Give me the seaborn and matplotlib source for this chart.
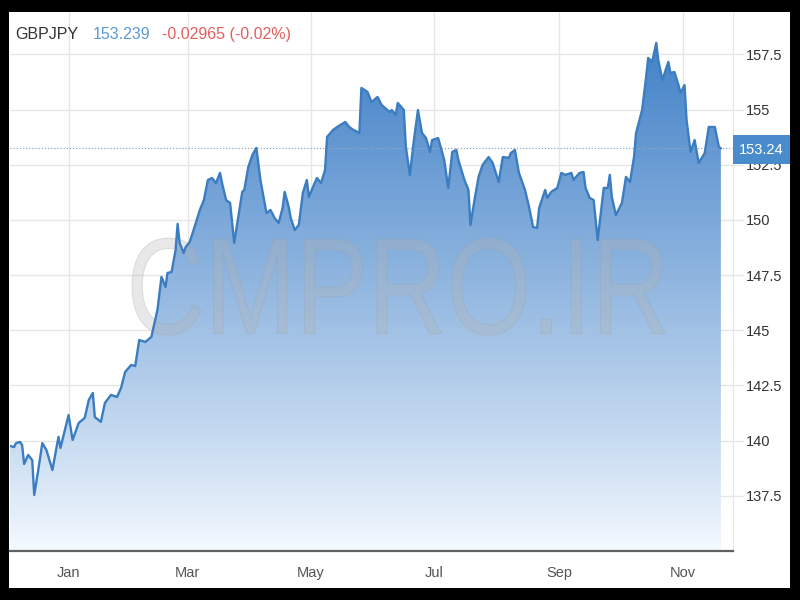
import numpy as np
import pandas as pd
import seaborn as sns
import matplotlib
matplotlib.use("Agg")
import matplotlib.pyplot as plt
import matplotlib.dates as mdates
from matplotlib.patches import Polygon, Rectangle, PathPatch
from matplotlib.textpath import TextPath
from matplotlib.font_manager import FontProperties
from matplotlib.transforms import Affine2D

# GBPJPY daily-ish closes
dates = [
    "2020-12-03", "2020-12-05", "2020-12-06", "2020-12-08", "2020-12-09", "2020-12-10",
    "2020-12-12", "2020-12-14", "2020-12-15", "2020-12-17", "2020-12-19", "2020-12-21",
    "2020-12-24", "2020-12-27", "2020-12-28", "2021-01-01", "2021-01-03", "2021-01-06",
    "2021-01-09", "2021-01-11", "2021-01-13", "2021-01-14", "2021-01-17", "2021-01-19",
    "2021-01-22", "2021-01-25", "2021-01-27", "2021-01-29", "2021-02-01", "2021-02-03",
    "2021-02-05", "2021-02-08", "2021-02-11", "2021-02-14", "2021-02-16", "2021-02-18",
    "2021-02-19", "2021-02-21", "2021-02-23", "2021-02-24", "2021-02-25", "2021-02-27",
    "2021-02-28", "2021-03-02", "2021-03-05", "2021-03-07", "2021-03-09", "2021-03-11",
    "2021-03-13", "2021-03-15", "2021-03-17", "2021-03-18", "2021-03-20", "2021-03-22",
    "2021-03-24", "2021-03-26", "2021-03-28", "2021-03-29", "2021-03-31", "2021-04-02",
    "2021-04-04", "2021-04-06", "2021-04-09", "2021-04-11", "2021-04-13", "2021-04-15",
    "2021-04-17", "2021-04-18", "2021-04-20", "2021-04-21", "2021-04-23", "2021-04-25",
    "2021-04-27", "2021-04-29", "2021-04-30", "2021-05-02", "2021-05-04", "2021-05-06",
    "2021-05-08", "2021-05-09", "2021-05-12", "2021-05-14", "2021-05-18", "2021-05-20",
    "2021-05-22", "2021-05-25", "2021-05-26", "2021-05-29", "2021-05-31", "2021-06-03",
    "2021-06-05", "2021-06-09", "2021-06-10", "2021-06-12", "2021-06-13", "2021-06-16",
    "2021-06-17", "2021-06-19", "2021-06-21", "2021-06-23", "2021-06-25", "2021-06-27",
    "2021-06-29", "2021-06-30", "2021-07-03", "2021-07-06", "2021-07-08", "2021-07-10",
    "2021-07-12", "2021-07-13", "2021-07-16", "2021-07-18", "2021-07-19", "2021-07-21",
    "2021-07-23", "2021-07-25", "2021-07-28", "2021-07-30", "2021-08-02", "2021-08-04",
    "2021-08-07", "2021-08-08", "2021-08-10", "2021-08-12", "2021-08-15", "2021-08-17",
    "2021-08-19", "2021-08-21", "2021-08-22", "2021-08-25", "2021-08-26", "2021-08-28",
    "2021-08-31", "2021-09-02", "2021-09-04", "2021-09-07", "2021-09-08", "2021-09-11",
    "2021-09-13", "2021-09-14", "2021-09-16", "2021-09-18", "2021-09-20", "2021-09-23",
    "2021-09-25", "2021-09-26", "2021-09-27", "2021-09-29", "2021-10-02", "2021-10-04",
    "2021-10-06", "2021-10-08", "2021-10-09", "2021-10-12", "2021-10-14", "2021-10-15",
    "2021-10-17", "2021-10-19", "2021-10-20", "2021-10-22", "2021-10-25", "2021-10-26",
    "2021-10-28", "2021-10-30", "2021-10-31", "2021-11-02", "2021-11-03", "2021-11-05",
    "2021-11-07", "2021-11-09", "2021-11-12", "2021-11-14", "2021-11-15", "2021-11-17",
    "2021-11-19", "2021-11-20",
]
prices = [
    139.76, 139.71, 139.89, 139.94, 139.80, 138.94,
    139.35, 139.12, 137.54, 138.67, 139.89, 139.58,
    138.67, 140.17, 139.67, 141.16, 140.03, 140.80,
    141.03, 141.84, 142.16, 141.07, 140.85, 141.71,
    142.07, 141.98, 142.39, 143.11, 143.43, 143.38,
    144.56, 144.47, 144.70, 145.92, 147.42, 146.96,
    147.60, 147.64, 148.64, 149.82, 148.96, 148.50,
    148.77, 149.00, 149.86, 150.45, 150.90, 151.81,
    151.90, 151.67, 152.13, 151.67, 150.90, 150.77,
    148.96, 150.13, 151.27, 151.36, 152.40, 152.94,
    153.26, 151.81, 150.31, 150.45, 150.09, 149.86,
    150.54, 151.27, 150.59, 150.09, 149.54, 149.77,
    151.22, 151.81, 151.04, 151.49, 151.90, 151.67,
    152.26, 153.76, 154.08, 154.21, 154.44, 154.21,
    154.08, 153.94, 155.98, 155.80, 155.34, 155.57,
    155.21, 154.89, 154.98, 154.76, 155.30, 154.98,
    153.31, 152.04, 153.62, 154.98, 153.94, 153.71,
    153.08, 153.62, 153.71, 152.72, 151.45, 153.08,
    153.17, 152.72, 151.81, 151.36, 149.77, 150.90,
    151.95, 152.49, 152.85, 152.58, 151.72, 152.85,
    152.81, 153.03, 153.17, 152.13, 151.36, 150.59,
    149.68, 149.64, 150.54, 151.36, 151.00, 151.27,
    151.45, 152.13, 152.04, 152.13, 151.81, 152.13,
    152.17, 151.45, 151.00, 150.90, 149.09, 151.45,
    151.45, 152.04, 151.04, 150.22, 150.77, 151.95,
    151.72, 152.85, 153.94, 154.98, 156.48, 157.34,
    157.16, 158.02, 157.25, 156.34, 157.16, 156.66,
    156.70, 156.11, 155.75, 156.11, 154.53, 153.08,
    153.62, 152.58, 153.03, 154.21, 154.21, 154.21,
    153.31, 153.24,
]
month_ticks = ["2021-01-01", "2021-03-01", "2021-05-01", "2021-07-01", "2021-09-01", "2021-11-01"]
month_labels = ["Jan", "Mar", "May", "Jul", "Sep", "Nov"]
y_ticks = [137.5, 140, 142.5, 145, 147.5, 150, 152.5, 155, 157.5]
y_labels = ["137.5", "140", "142.5", "145", "147.5", "150", "152.5", "155", "157.5"]
last_price = 153.24

df = pd.DataFrame({"date": pd.to_datetime(dates), "price": prices})

sns.set_style("white")
plt.rcParams["font.family"] = ["Liberation Sans", "DejaVu Sans"]

fig = plt.figure(figsize=(8, 6), dpi=100, facecolor="black")
# white panel inside the black frame
fig.add_artist(Rectangle((9 / 800, 12 / 600), 781 / 800, 576 / 600,
                         transform=fig.transFigure, facecolor="white",
                         edgecolor="none", zorder=-10))
ax = fig.add_axes([10 / 800, 49 / 600, 723 / 800, 539 / 600])
ax.set_facecolor("none")

x0 = pd.Timestamp("2020-12-03")
x1 = pd.Timestamp("2021-11-26")
y0, y1 = 135, 159.42

# gradient area under the line
xn = mdates.date2num(df["date"])
grad = np.linspace(0, 1, 256).reshape(-1, 1)
top_c = np.array([0.25, 0.50, 0.78])
bot_c = np.array([0.96, 0.98, 1.0])
img = bot_c + (top_c - bot_c) * grad[..., None] ** 0.9
img = np.repeat(img, 2, axis=1)
im = ax.imshow(img, origin="lower", aspect="auto",
               extent=[xn[0], xn[-1], y0, 158.6], zorder=1)
verts = np.vstack([np.column_stack([xn, df["price"]]),
                   [[xn[-1], y0], [xn[0], y0]]])
poly = Polygon(verts, closed=True, facecolor="none", edgecolor="none",
               transform=ax.transData)
ax.add_patch(poly)
im.set_clip_path(poly)

sns.lineplot(data=df, x="date", y="price", ax=ax, color="#3b7dc0",
             linewidth=1.7, zorder=4)
ax.set_xlim(x0, x1)
ax.set_ylim(y0, y1)

ax.axhline(last_price, color="#8fa9c4", linestyle=(0, (1, 1.5)),
           linewidth=0.9, zorder=3)

# watermark
tp = TextPath((0, 0), "CMPRO.IR", size=1,
              prop=FontProperties(family="Liberation Sans"))
bb = tp.get_extents()
sx = (665 - 132) / 800 / bb.width
sy = (362 - 265) / 600 / bb.height
tr = Affine2D().translate(-bb.x0, -bb.y0).scale(sx, sy).translate(132 / 800, 265 / 600)
ax.add_patch(PathPatch(tr.transform_path(tp), transform=fig.transFigure,
                       facecolor=(0.70, 0.70, 0.70, 0.30),
                       edgecolor=(0.62, 0.62, 0.62, 0.25), linewidth=0.8,
                       zorder=3.5))

# axes styling
ax.set_xticks(pd.to_datetime(month_ticks))
ax.set_xticklabels(month_labels)
ax.set_yticks(y_ticks)
ax.set_yticklabels(y_labels)
ax.yaxis.tick_right()
ax.grid(True, color="#e6e6e6", linewidth=1, zorder=0)
ax.set_axisbelow(True)
ax.tick_params(axis="x", length=0, pad=11, labelsize=10.5, labelcolor="#555555")
ax.tick_params(axis="y", length=7.5, width=1, color="#e6e6e6", pad=2,
               labelsize=10.5, labelcolor="#333333")
ax.set_xlabel("")
ax.set_ylabel("")
for s in ["left", "top"]:
    ax.spines[s].set_visible(False)
ax.spines["right"].set_color("#e6e6e6")
ax.spines["bottom"].set_color("#606060")
ax.spines["bottom"].set_linewidth(1.6)

# header
fig.text(15 / 800, 1 - 39 / 600, "GBPJPY", color="#333333", fontsize=11.5,
         va="baseline")
fig.text(93 / 800, 1 - 39 / 600, "153.239", color="#5b9bd5", fontsize=11.5,
         va="baseline")
fig.text(162 / 800, 1 - 39 / 600, "-0.02965 (-0.02%)", color="#e0605e",
         fontsize=11.5, va="baseline")

# last price flag
fig.add_artist(Rectangle((733 / 800, 1 - 164 / 600), 57 / 800, 29 / 600,
                         transform=fig.transFigure, facecolor="#4a8bcb",
                         edgecolor="none", zorder=5))
fig.text(761 / 800, 1 - 149.5 / 600, "153.24", color="white", fontsize=10.5,
         ha="center", va="center", zorder=6)

fig.savefig("out.png", dpi=100, facecolor="black")
